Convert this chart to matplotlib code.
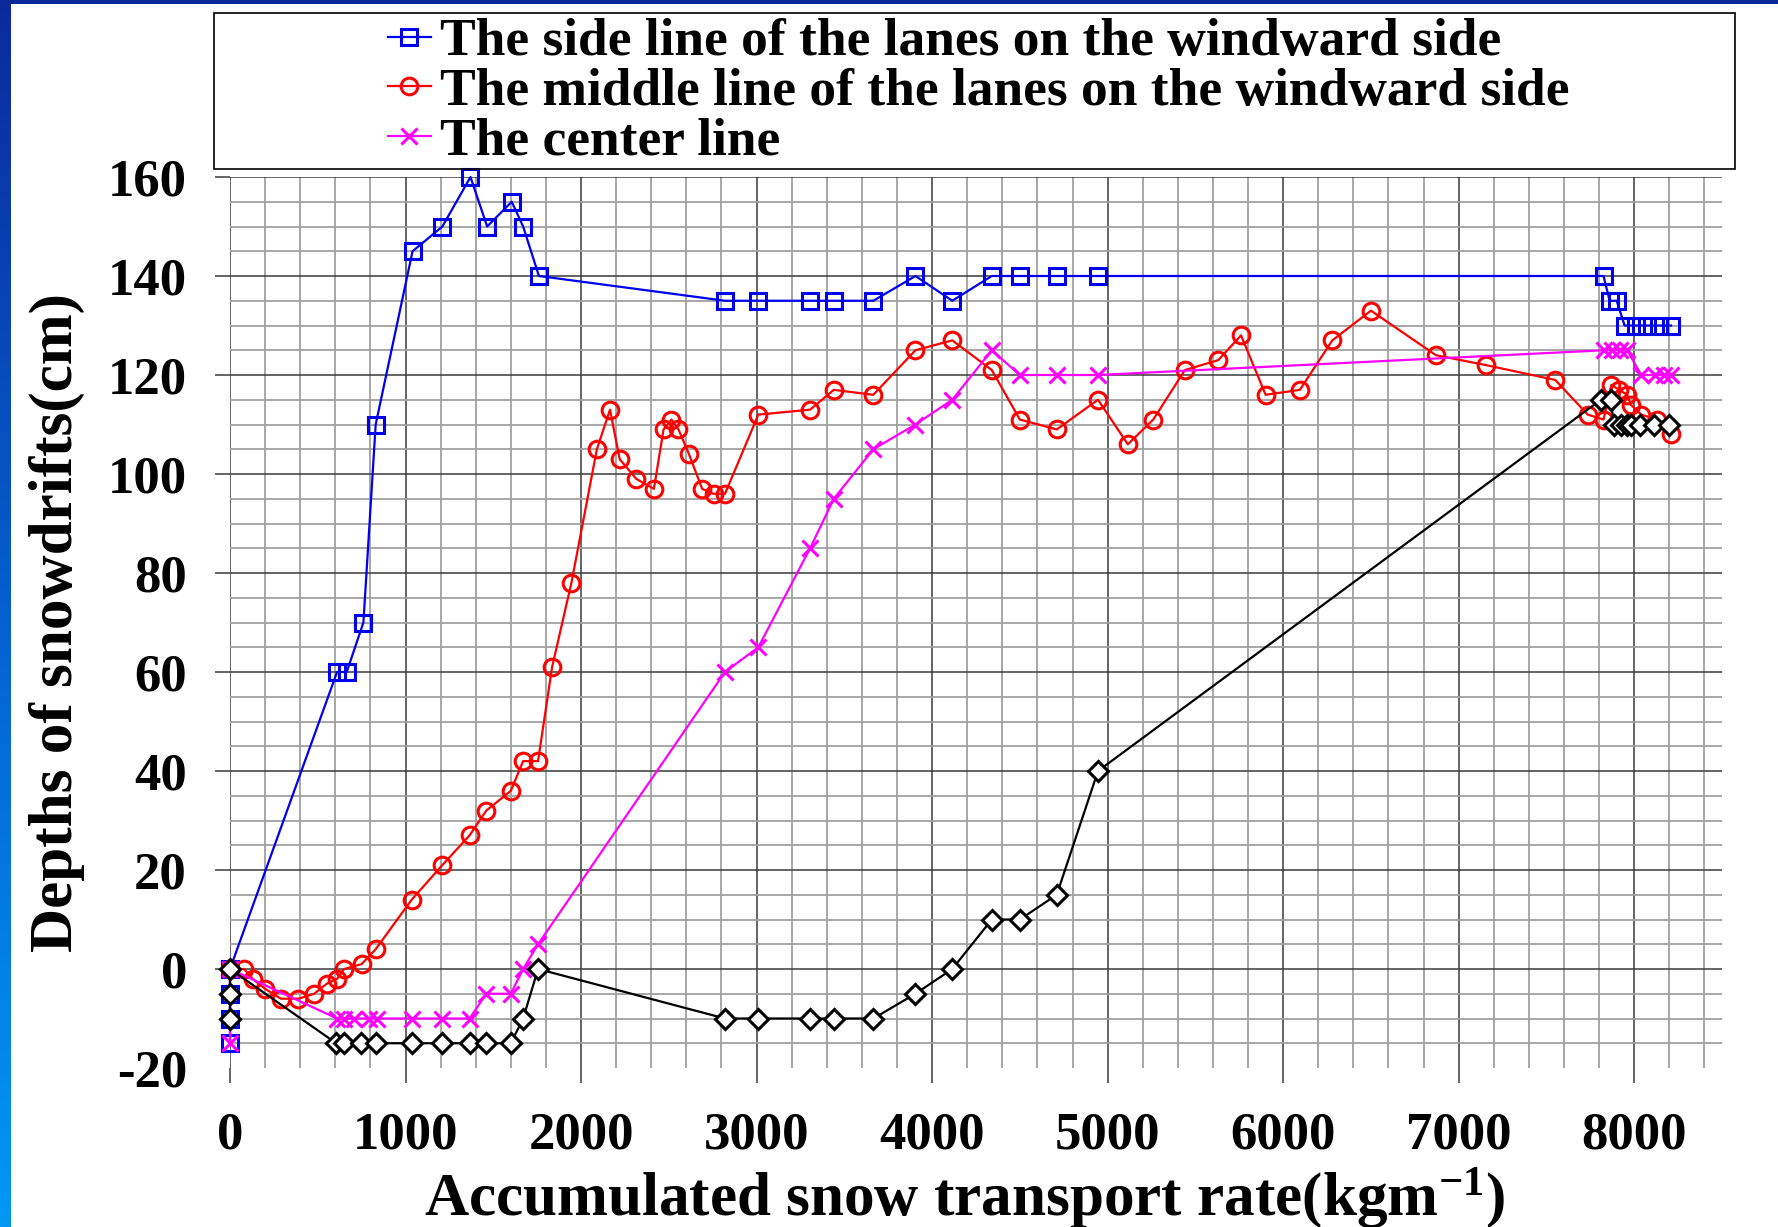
import matplotlib
matplotlib.use('Agg')
import matplotlib.pyplot as plt
import matplotlib.patches as mpatches
from matplotlib.colors import LinearSegmentedColormap
from matplotlib.ticker import MultipleLocator
import numpy as np

# ---- data (x: kg/m, y: cm) ----
side_x = [0, 0, 0, 0, 610, 665, 760, 830, 1040, 1210, 1370, 1465, 1605, 1670, 1760,
          2820, 3010, 3305, 3440, 3665, 3905, 4115, 4340, 4500, 4710, 4945,
          7825, 7860, 7900, 7945, 8010, 8075, 8140, 8210]
side_y = [-15, -10, -5, 0, 60, 60, 70, 110, 145, 150, 160, 150, 155, 150, 140,
          135, 135, 135, 135, 135, 140, 135, 140, 140, 140, 140,
          140, 135, 135, 130, 130, 130, 130, 130]

middle_x = [0, 80, 130, 200, 290, 390, 480, 550, 610, 650, 750, 830, 1035, 1210, 1365,
            1460, 1600, 1670, 1755, 1835, 1945, 2090, 2165, 2220, 2315, 2415, 2470,
            2515, 2555, 2615, 2690, 2755, 2820, 3010, 3305, 3440, 3665, 3905, 4115,
            4340, 4500, 4710, 4945, 5115, 5260, 5440, 5630, 5760, 5900, 6095, 6280,
            6500, 6870, 7155, 7550, 7735, 7825, 7870, 7915, 7960, 7980, 8040, 8130, 8210]
middle_y = [0, 0, -2, -4, -6, -6, -5, -3, -2, 0, 1, 4, 14, 21, 27,
            32, 36, 42, 42, 61, 78, 105, 113, 103, 99, 97, 109,
            111, 109, 104, 97, 96, 96, 112, 113, 117, 116, 125, 127,
            121, 111, 109, 115, 106, 111, 121, 123, 128, 116, 117, 127,
            133, 124, 122, 119, 112, 111, 118, 117, 116, 114, 112, 111, 108]

center_x = [0, 0, 610, 650, 705, 790, 835, 1035, 1210, 1365, 1460, 1600, 1670, 1755,
            2820, 3010, 3305, 3440, 3665, 3905, 4115, 4340, 4500, 4710, 4945,
            7830, 7875, 7920, 7960, 8040, 8120, 8170, 8210]
center_y = [-15, 0, -10, -10, -10, -10, -10, -10, -10, -10, -5, -5, 0, 5,
            60, 65, 85, 95, 105, 110, 115, 125, 120, 120, 120,
            125, 125, 125, 125, 120, 120, 120, 120]

lee_x = [0, 0, 0, 605, 650, 745, 830, 1035, 1210, 1365, 1460, 1600, 1670, 1755,
         2820, 3010, 3305, 3440, 3665, 3905, 4115, 4340, 4500, 4710, 4945,
         7810, 7865, 7885, 7925, 7960, 7980, 8030, 8115, 8200]
lee_y = [-10, -5, 0, -15, -15, -15, -15, -15, -15, -15, -15, -15, -10, 0,
         -10, -10, -10, -10, -10, -5, 0, 10, 10, 15, 40,
         115, 115, 110, 110, 110, 110, 110, 110, 110]

labels = ['The side line of the lanes on the windward side',
          'The middle line of the lanes on the windward side',
          'The center line']

plt.rcParams['font.family'] = 'Liberation Serif'
plt.rcParams['font.weight'] = 'bold'
plt.rcParams['axes.labelweight'] = 'bold'
plt.rcParams['axes.unicode_minus'] = False
plt.rcParams['mathtext.fontset'] = 'custom'
plt.rcParams['mathtext.rm'] = 'Liberation Serif:bold'
plt.rcParams['mathtext.bf'] = 'Liberation Serif:bold'
plt.rcParams['mathtext.default'] = 'rm'

W, H = 1778., 1227.
fig = plt.figure(figsize=(W / 100, H / 100), dpi=100)

# slide background: blue strip on the left and top
bg = fig.add_axes([0, 0, 11 / W, 1])
bg.imshow(np.linspace(0, 1, 256).reshape(-1, 1), aspect='auto',
          cmap=LinearSegmentedColormap.from_list('slide', ['#0b2a9c', '#0560d0', '#0098f2']))
bg.axis('off')
fig.add_artist(mpatches.Rectangle((0, 1 - 4 / H), 1, 4 / H, transform=fig.transFigure,
                                  color='#0b2a9a', lw=0))

ax = fig.add_axes([230 / W, (H - 1068) / H, (1722 - 230) / W, (1068 - 177) / H])

l1, = ax.plot(side_x, side_y, color='#0000ee', lw=1.6, marker='s', ms=11,
              mfc='none', mew=2.2, clip_on=False, zorder=3, label=labels[0])
l2, = ax.plot(middle_x, middle_y, color='#ff0000', lw=1.6, marker='o', ms=12,
              mfc='none', mew=2.2, clip_on=False, zorder=3, label=labels[1])
l3, = ax.plot(center_x, center_y, color='#ff00ff', lw=1.6, marker='x', ms=12,
              mew=2.2, clip_on=False, zorder=4, label=labels[2])
ax.plot(lee_x, lee_y, color='black', lw=1.6, marker='D', ms=10,
        mfc='white', mew=2.2, clip_on=False, zorder=5)

ax.set_xlim(0, 8500)
ax.set_ylim(-20, 160)
ax.set_xticks(np.arange(0, 8001, 1000))
ax.set_yticks(np.arange(-20, 161, 20))
ax.xaxis.set_minor_locator(MultipleLocator(200))
ax.yaxis.set_minor_locator(MultipleLocator(5))
ax.grid(which='major', color='#3a3a3a', lw=1.1)
ax.grid(which='minor', color='#a0a0a0', lw=1.3)
ax.set_axisbelow(True)
ax.tick_params(which='major', direction='out', length=11, width=1.1, color='#3a3a3a',
               labelsize=38, pad=20)
ax.tick_params(which='minor', length=0)
for s in ax.spines.values():
    s.set_visible(False)
# no line at the bottom (-20)
t0 = ax.yaxis.get_major_ticks()[0]
t0.gridline.set_visible(False)
t0.tick1line.set_visible(False)

ax.set_xlabel('Accumulated snow transport rate(kgm$^{-1}$)', fontsize=44, fontweight='bold')
ax.xaxis.set_label_coords(0.492, -0.146)
ax.xaxis.label.set_va('center')
ax.set_ylabel('Depths of snowdrifts(cm)', fontsize=44, fontweight='bold')
ax.yaxis.set_label_coords(-0.116, 0.5)
ax.yaxis.label.set_va('center')

# legend inside a wide box above the plot
fig.add_artist(mpatches.Rectangle((214 / W, 1 - 169 / H), (1735 - 214) / W, (169 - 13) / H,
                                  transform=fig.transFigure, fill=False,
                                  edgecolor='black', lw=1.2))
ax.legend(handles=[l1, l2, l3], loc='upper left', bbox_to_anchor=(388 / W, 1 - 18 / H),
          bbox_transform=fig.transFigure, frameon=False, fontsize=38.5,
          handlelength=0.8, handletextpad=0.17, labelspacing=0.02,
          borderpad=0, borderaxespad=0)

plt.savefig('out.png', dpi=100)
